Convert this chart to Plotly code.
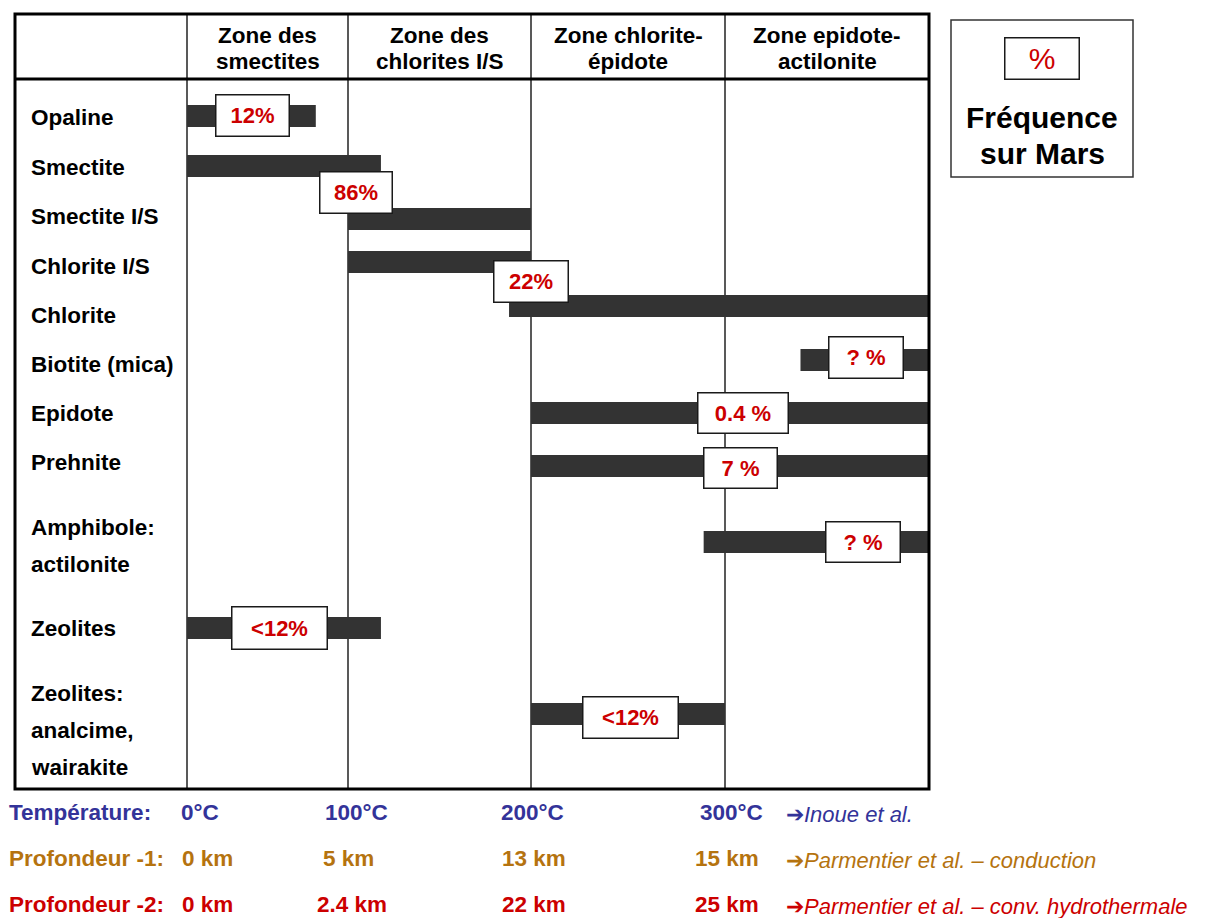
import plotly.graph_objects as go

W, H = 1205, 918
FONT = "Liberation Sans, Arial, sans-serif"
RED = "#CC0000"
BLUE = "#333399"
OCHRE = "#B5730F"
BAR = "#333333"
FS = 22.5

# ---- data -------------------------------------------------------------
ZONES = ["Zone des|smectites", "Zone des|chlorites I/S",
         "Zone chlorite-|épidote", "Zone epidote-|actilonite"]
ZONE_TEMPS = [0, 100, 200, 300, 400]  # last zone is open-ended

MINERALS = ["Opaline", "Smectite", "Smectite I/S", "Chlorite I/S", "Chlorite",
            "Biotite (mica)", "Epidote", "Prehnite", "Amphibole:|actilonite",
            "Zeolites", "Zeolites:|analcime,|wairakite"]
T_START = [0, 0, 100, 100, 188, 337, 200, 200, 289, 0, 200]
T_END = [80, 118, 200, 200, 400, 400, 400, 400, 400, 118, 300]
FREQ = ["12%", "86%", None, None, "22%", "? %", "0.4 %", "7 %", "? %", "<12%", "<12%"]

SCALE_NAMES = ["Température:", "Profondeur -1:", "Profondeur -2:"]
TEMP_LABELS = ["0°C", "100°C", "200°C", "300°C"]
DEPTH1_LABELS = ["0 km", "5 km", "13 km", "15 km"]
DEPTH2_LABELS = ["0 km", "2.4 km", "22 km", "25 km"]
SOURCES = ["Inoue et al.", "Parmentier et al. – conduction",
           "Parmentier et al. – conv. hydrothermale"]

# ---- layout (pixel positions) -----------------------------------------
COL_X = [187, 348, 531, 725, 929]
TBL_L, TBL_T, TBL_R, TBL_B, HEAD_B = 15, 14, 929, 789, 79
ROW_Y = [116, 166, 219, 262, 306, 360, 413, 466, 542, 628, 714]
LABEL_Y = [[117], [167], [216], [266], [315], [364], [413], [462],
           [527, 564], [628], [693, 730, 767]]
BOX = [(252, 115, 75, 43), (356, 192, 74, 43), None, None, (531, 281, 76, 43),
       (866, 357, 76, 43), (743, 413, 92, 42), (740, 468, 75, 42),
       (863, 542, 76, 42), (279, 628, 97, 44), (630, 717, 97, 43)]
BAR_H = 22
SCALE_Y = [812, 858, 904]
SCALE_X = [[200, 356, 532, 731], [207, 348, 534, 727], [207, 352, 534, 727]]
SCALE_COL = [BLUE, OCHRE, RED]

fig = go.Figure()

# bars: one subplot per zone, each with its own temperature scale
for i in range(4):
    fig.add_trace(go.Bar(
        orientation="h", y=ROW_Y,
        base=T_START, x=[e - s for s, e in zip(T_START, T_END)],
        width=BAR_H, marker=dict(color=BAR, line=dict(width=0)),
        xaxis=f"x{i + 2}", yaxis="y", showlegend=False, hoverinfo="skip"))

layout_axes = {}
layout_axes["xaxis"] = dict(range=[0, W], domain=[0, 1], visible=False, fixedrange=True)
layout_axes["yaxis"] = dict(range=[H, 0], domain=[0, 1], visible=False, fixedrange=True)
for i in range(4):
    layout_axes[f"xaxis{i + 2}"] = dict(
        range=[ZONE_TEMPS[i], ZONE_TEMPS[i + 1]],
        domain=[COL_X[i] / W, COL_X[i + 1] / W],
        anchor="y", visible=False, fixedrange=True)

shapes = []
# column separators
for cx in COL_X[:-1]:
    shapes.append(dict(type="line", xref="x", yref="y", x0=cx, x1=cx, y0=TBL_T, y1=TBL_B,
                       line=dict(color="#222222", width=1.5), layer="below"))
# header underline and table frame
shapes.append(dict(type="line", xref="x", yref="y", x0=TBL_L, x1=TBL_R, y0=HEAD_B, y1=HEAD_B,
                   line=dict(color="#000000", width=3), layer="above"))
shapes.append(dict(type="rect", xref="x", yref="y", x0=TBL_L, x1=TBL_R, y0=TBL_T, y1=TBL_B,
                   line=dict(color="#000000", width=3), layer="above"))
# key box
shapes.append(dict(type="rect", xref="x", yref="y", x0=951, x1=1133, y0=20, y1=177,
                   line=dict(color="#333333", width=1.5), layer="above"))

ann = []


def text(x, y, s, size=FS, color="black", anchor="left", bold=True, italic=False):
    if bold:
        s = f"<b>{s}</b>"
    if italic:
        s = f"<i>{s}</i>"
    ann.append(dict(x=x, y=y, xref="x", yref="y", text=s, showarrow=False,
                    xanchor=anchor, yanchor="middle", borderpad=0,
                    font=dict(family=FONT, size=size, color=color)))


# column headers
for i, z in enumerate(ZONES):
    cx = (COL_X[i] + COL_X[i + 1]) / 2
    for j, line in enumerate(z.split("|")):
        text(cx, 35 + 26 * j, line, anchor="center")

# mineral names
for name, ys in zip(MINERALS, LABEL_Y):
    for line, y in zip(name.split("|"), ys):
        text(30, y, line)

# frequency boxes
for f, b in zip(FREQ, BOX):
    if f is None:
        continue
    cx, cy, w, h = b
    ann.append(dict(x=cx, y=cy, xref="x", yref="y", text=f"<b>{f}</b>", showarrow=False,
                    xanchor="center", yanchor="middle", width=w - 3, height=h - 3,
                    bgcolor="white", bordercolor="#1a1a1a", borderwidth=1.5, borderpad=0,
                    font=dict(family=FONT, size=22, color=RED)))

# key
ann.append(dict(x=1042, y=58.5, xref="x", yref="y", text="%", showarrow=False,
                xanchor="center", yanchor="middle", width=73, height=40,
                bgcolor="white", bordercolor="#1a1a1a", borderwidth=1.5, borderpad=0,
                font=dict(family=FONT, size=30, color=RED)))
text(1042, 117, "Fréquence", size=30, anchor="center")
text(1042, 153, "sur Mars", size=30, anchor="center")

# temperature / depth scales
for r, (name, labels) in enumerate(zip(SCALE_NAMES, [TEMP_LABELS, DEPTH1_LABELS, DEPTH2_LABELS])):
    text(8, SCALE_Y[r], name, color=SCALE_COL[r])
    for lx, lab in zip(SCALE_X[r], labels):
        text(lx, SCALE_Y[r], lab, color=SCALE_COL[r], anchor="center")
    ann.append(dict(x=785, y=SCALE_Y[r] + 2, xref="x", yref="y",
                    text=f"➔<i>{SOURCES[r]}</i>", showarrow=False,
                    xanchor="left", yanchor="middle", borderpad=0,
                    font=dict(family=FONT, size=22, color=SCALE_COL[r])))

fig.update_layout(
    width=W, height=H, margin=dict(l=0, r=0, t=0, b=0),
    paper_bgcolor="white", plot_bgcolor="rgba(0,0,0,0)",
    barmode="overlay", shapes=shapes, annotations=ann, showlegend=False,
    **layout_axes)

fig.write_html("out.html", config={"displayModeBar": False})
